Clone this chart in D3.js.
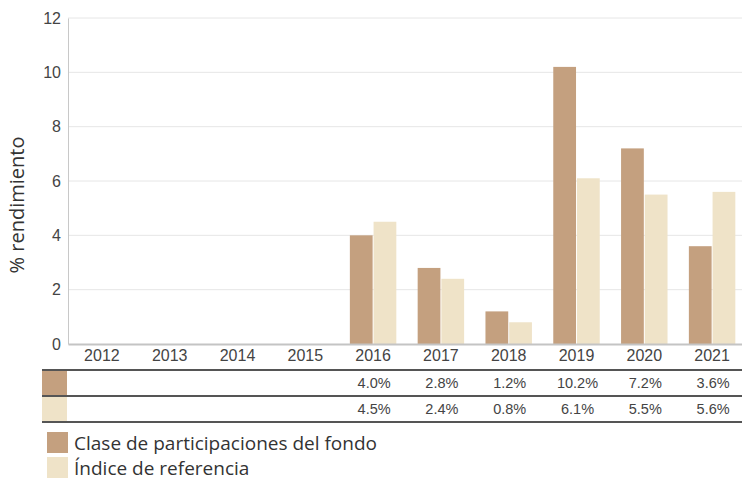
<!DOCTYPE html>
<html>
<head>
<meta charset="utf-8">
<script src="https://cdn.jsdelivr.net/npm/d3@7"></script>
<style>
  body { margin: 0; background: #fff; }
  svg text { font-family: "Liberation Sans", Arial, sans-serif; }
  .lbl { font-family: "Open Sans", "Noto Sans", sans-serif !important; }
</style>
</head>
<body>
<div id="chart"></div>
<script>
// 年份、两组数据（null 表示无数据）
const years = ["2012", "2013", "2014", "2015", "2016", "2017", "2018", "2019", "2020", "2021"];
const fundValues = [null, null, null, null, 4.0, 2.8, 1.2, 10.2, 7.2, 3.6];
const indexValues = [null, null, null, null, 4.5, 2.4, 0.8, 6.1, 5.5, 5.6];
const seriesNames = ["Clase de participaciones del fondo", "Índice de referencia"];
const yTicks = [0, 2, 4, 6, 8, 10, 12];

const colors = ["#c4a07f", "#efe3c8"];
const W = 742, H = 480;
const plot = { left: 68, right: 746, top: 18, bottom: 344 };

const svg = d3.select("#chart").append("svg")
  .attr("width", W).attr("height", H);

const x = d3.scaleBand().domain(years).range([plot.left, plot.right]).paddingInner(0).paddingOuter(0);
const y = d3.scaleLinear().domain([0, 12]).range([plot.bottom, plot.top]);
const inner = d3.scaleBand().domain([0, 1]).range([0, x.bandwidth()]).paddingInner(0.04).paddingOuter(0.45);

// 网格线
svg.append("g")
  .selectAll("line").data(yTicks.filter(t => t > 0)).enter().append("line")
  .attr("x1", plot.left).attr("x2", W)
  .attr("y1", d => y(d)).attr("y2", d => y(d))
  .attr("stroke", "#e6e6e6").attr("stroke-width", 1);

// y 轴
const yAxis = svg.append("g")
  .attr("transform", `translate(${plot.left},0)`)
  .call(d3.axisLeft(y).tickValues(yTicks).tickSize(0).tickPadding(7));
yAxis.select(".domain").attr("stroke", "#c8c8c8");
yAxis.selectAll("text").attr("font-size", 16).attr("fill", "#444")
  .style("font-family", "'Liberation Sans', Arial, sans-serif");

// 柱子
const series = [fundValues, indexValues];
series.forEach((vals, si) => {
  svg.append("g").selectAll("rect")
    .data(years.map((yr, i) => ({ yr, v: vals[i] })).filter(d => d.v !== null))
    .enter().append("rect")
    .attr("x", d => x(d.yr) + inner(si))
    .attr("y", d => y(d.v))
    .attr("width", inner.bandwidth())
    .attr("height", d => y(0) - y(d.v))
    .attr("fill", colors[si]);
});

// x 轴
const xAxis = svg.append("g")
  .attr("transform", `translate(0,${plot.bottom})`)
  .call(d3.axisBottom(x).tickSize(0).tickPadding(6));
xAxis.select(".domain").attr("stroke", "#c4c4c4").attr("stroke-width", 2);
xAxis.selectAll("text").attr("font-size", 16).attr("fill", "#444")
  .style("font-family", "'Liberation Sans', Arial, sans-serif");

// 数据表
const rowTop = 370, rowH = 26;
const table = svg.append("g");
[0, 1, 2].forEach(r => {
  table.append("line")
    .attr("x1", 42).attr("x2", W)
    .attr("y1", rowTop + r * rowH).attr("y2", rowTop + r * rowH)
    .attr("stroke", "#555").attr("stroke-width", 2);
});
series.forEach((vals, si) => {
  const top = rowTop + si * rowH;
  table.append("rect")
    .attr("x", 42).attr("y", top + 1).attr("width", 25).attr("height", rowH - 2)
    .attr("fill", colors[si]);
  table.selectAll(null)
    .data(years.map((yr, i) => ({ yr, v: vals[i] })).filter(d => d.v !== null))
    .enter().append("text")
    .attr("x", d => x(d.yr) + x.bandwidth() / 2 + 1)
    .attr("y", top + rowH / 2 + 5)
    .attr("text-anchor", "middle")
    .attr("font-size", 14.5).attr("fill", "#444")
    .text(d => d.v.toFixed(1) + "%");
});

// 图例
seriesNames.forEach((name, i) => {
  const ly = 432 + i * 25;
  svg.append("rect").attr("x", 47).attr("y", ly).attr("width", 21).attr("height", 21)
    .attr("fill", colors[i]);
  svg.append("text").attr("class", "lbl")
    .attr("x", 74).attr("y", ly + 18)
    .attr("font-size", 19).attr("fill", "#333")
    .text(name);
});

// y 轴标题
svg.append("text").attr("class", "lbl")
  .attr("transform", `translate(24,205) rotate(-90)`)
  .attr("text-anchor", "middle")
  .attr("font-size", 20).attr("fill", "#333")
  .text("% rendimiento");
</script>
</body>
</html>
